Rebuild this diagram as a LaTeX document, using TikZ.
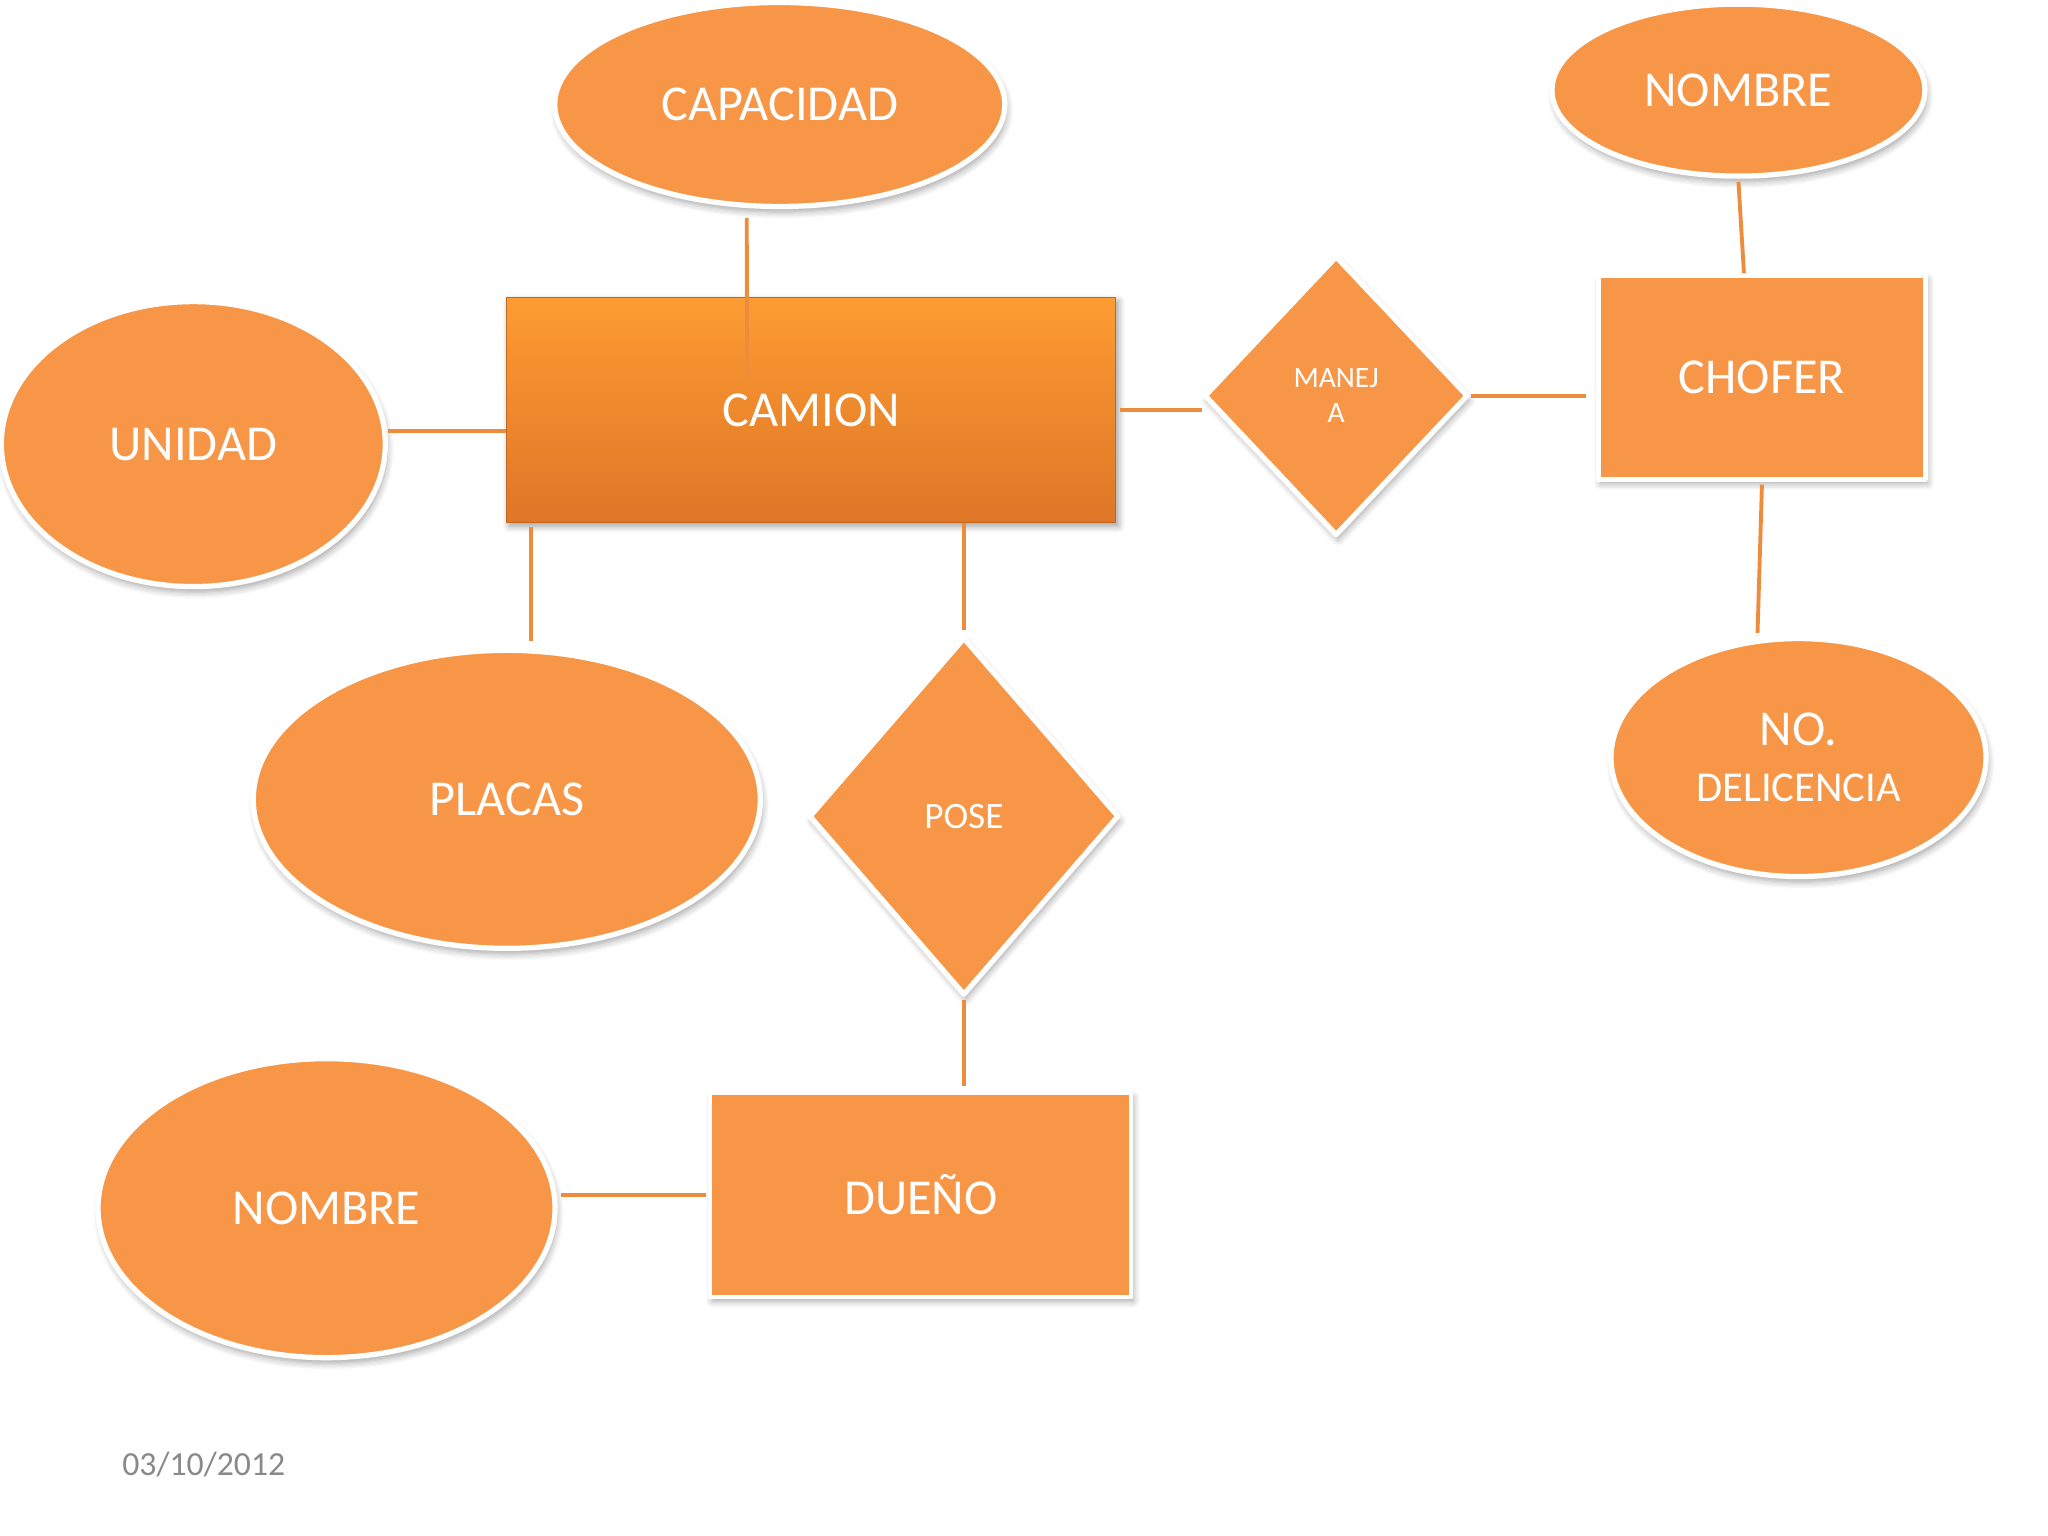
\documentclass[tikz,border=0pt]{standalone}
\usepackage{fontspec}
\setmainfont{Carlito}
\usetikzlibrary{shapes.geometric,shadows.blur}
\definecolor{naranja}{RGB}{247,150,70}
\definecolor{linea}{RGB}{238,140,62}
\definecolor{fecha}{RGB}{137,137,140}
\begin{document}
\begin{tikzpicture}[x=0.013061cm,y=-0.013061cm,line join=round,line cap=round]
				\tikzset{
					atrib/.style={ellipse,fill=naranja,draw=white,line width=1.5pt,text=white,inner sep=0pt,
						blur shadow={shadow xshift=0.6pt,shadow yshift=-1.6pt,shadow blur steps=6,shadow opacity=35},
						font=\fontsize{14.3}{17}\selectfont},
					entidad/.style={rectangle,fill=naranja,draw=white,line width=1.2pt,text=white,inner sep=0pt,
						blur shadow={shadow xshift=0.6pt,shadow yshift=-1.2pt,shadow blur steps=6,shadow opacity=35},
						font=\fontsize{14.3}{17}\selectfont},
					relac/.style={diamond,fill=naranja,draw=white,line width=1.5pt,text=white,inner sep=0pt,
						blur shadow={shadow xshift=0.6pt,shadow yshift=-1.4pt,shadow blur steps=6,shadow opacity=35}},
					conn/.style={draw=linea,line width=1.1pt,line cap=butt}
				}
				\useasboundingbox (0,0) rectangle (1568,1176);
				% atributos
				\foreach \nom/\x/\y/\w/\h/\txt in {capacidad/597/80/4.50/2.04/CAPACIDAD,
					nombrec/1331/69/3.73/1.72/NOMBRE,
					unidad/148/340/3.84/2.85/UNIDAD,
					placas/388/612/5.07/2.98/PLACAS,
					nombred/250/925/4.57/2.99/NOMBRE}{
					\node[atrib,minimum width=\w cm,minimum height=\h cm] (\nom) at (\x,\y) {\txt};
				}
				\node[atrib,minimum width=3.75cm,minimum height=2.38cm,align=center] (licencia) at (1377,580)
					{NO.\\[-1pt]{\fontsize{12.1}{17}\selectfont DELICENCIA}};
				% entidades
				\node[rectangle,minimum width=6.09cm,minimum height=2.25cm,draw={rgb,255:red,196;green,104;blue,30},line width=0.5pt,
					top color={rgb,255:red,253;green,156;blue,50},bottom color={rgb,255:red,222;green,118;blue,40},
					blur shadow={shadow xshift=0.8pt,shadow yshift=-1pt,shadow blur steps=5,shadow opacity=40},
					text=white,font=\fontsize{14.3}{17}\selectfont] (camion) at (621,314) {CAMION};
				\node[entidad,minimum width=3.27cm,minimum height=2.04cm] (chofer) at (1349,289) {CHOFER};
				\node[entidad,minimum width=4.21cm,minimum height=2.04cm] (dueno) at (705,915) {DUEÑO};
				% relaciones
				\node[relac,minimum width=2.64cm,minimum height=2.80cm,align=center,
					font=\fontsize{8.4}{10}\selectfont] (maneja) at (1023,303) {MANEJ\\A};
				\node[relac,minimum width=3.10cm,minimum height=3.58cm,
					font=\fontsize{10.6}{13}\selectfont] (pose) at (738,625) {POSE};
				% lineas
				\coordinate (capfin) at (572,288);
				\draw[conn] ([xshift=-0.33cm,yshift=-0.09cm]capacidad.south) -- (capfin);
				\draw[conn] ([yshift=0.13cm]unidad.east) -- ([yshift=0.13cm]unidad.east -| camion.west);
				\draw[conn] ([xshift=0.25cm,yshift=-0.04cm]camion.south west) -- ([xshift=0.25cm,yshift=0.07cm]camion.south west |- placas.north);
				\draw[conn] (pose.north |- camion.south) -- ([yshift=0.05cm]pose.north);
				\draw[conn] ([xshift=0.04cm]camion.east) -- (camion.east -| maneja.west);
				\draw[conn] (maneja.east) -- ([xshift=-0.1cm]maneja.east -| chofer.west);
				\draw[conn] ([yshift=-0.03cm]nombrec.south) -- ([xshift=-0.18cm]chofer.north);
				\draw[conn] ([yshift=-0.03cm]chofer.south) -- ([xshift=-0.41cm,yshift=0.03cm]licencia.north);
				\draw[conn] ([yshift=-0.02cm]pose.south) -- ([yshift=0.05cm]pose.south |- dueno.north);
				\draw[conn] ([xshift=0.03cm]dueno.west -| nombred.east) -- ([xshift=-0.02cm]dueno.west);
				% fecha
				\node[text=fecha,font=\fontsize{9.6}{12}\selectfont] (fecha) at (156,1121) {03/10/2012};
			\end{tikzpicture}
\end{document}
